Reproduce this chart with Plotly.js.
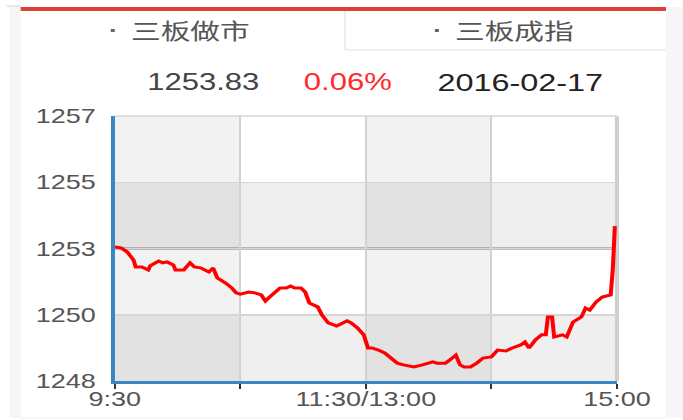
<!DOCTYPE html>
<html>
<head>
<meta charset="utf-8">
<script src="https://cdn.plot.ly/plotly-3.0.1.min.js"></script>
<style>
html,body{margin:0;padding:0;background:#fff;overflow:hidden;}
#chart{width:506px;height:420px;transform:scaleX(1.35);transform-origin:0 0;}
</style>
</head>
<body>
<div id="chart"></div>
<script>
// ---- data ----
const tabLabels = ['三板做市', '三板成指'];
const tradeDate = '2016-02-17';
const prevClose = 1253.08;
const halfRange = 4.45;
const minutes = [0,3,6,9,10,13,16,17,21,23,25,28,29,33,36,38,41,45,47,49,53,56,58,60,64,67,70,72,74,77,79,82,84,86,89,91,93,97,99,102,106,109,111,113,116,119,121,123,126,129,132,135,138,143,147,152,154,158,160,163,165,167,170,173,176,180,183,187,190,194,196,198,201,204,206,207,209,210,214,216,219,221,223,225,227,230,233,237,238,239];
const values = [1253.13,1253.10,1252.96,1252.69,1252.46,1252.46,1252.36,1252.50,1252.66,1252.60,1252.63,1252.53,1252.36,1252.36,1252.60,1252.46,1252.43,1252.29,1252.43,1252.09,1251.92,1251.75,1251.59,1251.55,1251.62,1251.59,1251.52,1251.32,1251.45,1251.62,1251.75,1251.75,1251.82,1251.75,1251.75,1251.62,1251.25,1251.12,1250.85,1250.58,1250.48,1250.58,1250.65,1250.58,1250.41,1250.18,1249.74,1249.74,1249.67,1249.57,1249.40,1249.23,1249.17,1249.10,1249.17,1249.27,1249.23,1249.23,1249.33,1249.50,1249.17,1249.10,1249.10,1249.23,1249.40,1249.44,1249.67,1249.64,1249.74,1249.84,1249.94,1249.74,1250.01,1250.18,1250.18,1250.78,1250.78,1250.11,1250.18,1250.11,1250.61,1250.68,1250.78,1251.08,1251.01,1251.28,1251.45,1251.52,1252.36,1253.83];
const xTickVals = [0,60,120,180,240];
const xTickText = ['9:30','','11:30/13:00','','15:00'];
const yTickText = ['1257','1255','1253','1250','1248'];

// ---- layout helpers ----
const S = 1.35;
const W = 506, H = 420;
const L = 115 / S, R = W - 617 / S, T = 116, B = H - 381;
const px = x => (x - 115) / 502;   // page pixel -> paper x
const py = y => (381 - y) / 265;   // page pixel -> paper y

const yMax = prevClose + halfRange, yMin = prevClose - halfRange;
const yTickVals = [yMax, prevClose + halfRange / 2, prevClose, prevClose - halfRange / 2, yMin];

const last = values[values.length - 1];
const pct = ((last - prevClose) / prevClose * 100).toFixed(2) + '%';

const shapes = [];
// column bands
[[0,60],[120,180]].forEach(([a,b]) => shapes.push({type:'rect', layer:'below', xref:'x', yref:'paper', x0:a, x1:b, y0:0, y1:1, fillcolor:'rgba(0,0,0,0.05)', line:{width:0}}));
// row bands
[[prevClose, prevClose + halfRange/2],[yMin, prevClose - halfRange/2]].forEach(([a,b]) => shapes.push({type:'rect', layer:'below', xref:'paper', yref:'y', x0:0, x1:1, y0:a, y1:b, fillcolor:'rgba(0,0,0,0.063)', line:{width:0}}));
// prev close line
shapes.push({type:'line', layer:'below', xref:'paper', yref:'y', x0:0, x1:1, y0:prevClose, y1:prevClose, line:{color:'#7f7f7f', width:2}});
// top border
shapes.push({type:'line', xref:'paper', yref:'paper', x0:0, x1:1, y0:1, y1:1, line:{color:'#d6d6d6', width:1.5}});
// right border
shapes.push({type:'line', layer:'below', xref:'paper', yref:'paper', x0:1, x1:1, y0:0, y1:1, line:{color:'#cfcfcf', width:3}});
// page frame
shapes.push({type:'rect', xref:'paper', yref:'paper', x0:px(10), x1:px(21), y0:py(418), y1:py(7), fillcolor:'#f5f5f7', line:{width:0}});
shapes.push({type:'rect', xref:'paper', yref:'paper', x0:px(666), x1:px(683), y0:py(418), y1:py(7), fillcolor:'#f6f6f8', line:{width:0}});
shapes.push({type:'line', xref:'paper', yref:'paper', x0:px(7), x1:px(21), y0:py(6), y1:py(6), line:{color:'#cfcfcf', width:1}});
shapes.push({type:'line', xref:'paper', yref:'paper', x0:px(21), x1:px(666), y0:py(418), y1:py(418), line:{color:'#eeeeee', width:1}});
// red header bar
shapes.push({type:'rect', xref:'paper', yref:'paper', x0:px(21), x1:px(666), y0:py(11), y1:py(7), fillcolor:'#dc4139', line:{width:0}});
// second tab borders
shapes.push({type:'line', xref:'paper', yref:'paper', x0:px(345), x1:px(345), y0:py(50), y1:py(11), line:{color:'#e6e6e6', width:1}});
shapes.push({type:'line', xref:'paper', yref:'paper', x0:px(345), x1:px(666), y0:py(50), y1:py(50), line:{color:'#ebebeb', width:1.5}});
// tab bullets
[113, 437].forEach(x => shapes.push({type:'rect', xref:'paper', yref:'paper', x0:px(x - 2), x1:px(x + 2), y0:py(32), y1:py(29), fillcolor:'#666', line:{width:0}}));

const cjk = '"Noto Sans CJK SC", sans-serif';
const latin = '"Liberation Sans", Arial, sans-serif';
const annotations = [
  {text:tabLabels[0], x:px(190), y:py(29), font:{family:cjk, size:22, color:'#555'}},
  {text:tabLabels[1], x:px(514), y:py(29), font:{family:cjk, size:22, color:'#555'}},
  {text:last.toFixed(2), x:px(204), y:py(82), font:{family:latin, size:23, color:'#444'}},
  {text:pct, x:px(348), y:py(82), font:{family:latin, size:23, color:'#ff2a2a'}},
  {text:tradeDate, x:px(521), y:py(82), font:{family:latin, size:24, color:'#222'}}
].map(a => Object.assign({xref:'paper', yref:'paper', showarrow:false, xanchor:'center', yanchor:'middle'}, a));

const trace = {
  x: minutes, y: values, type:'scatter', mode:'lines',
  line:{color:'#ff0000', width:3}, hoverinfo:'skip'
};

const layout = {
  width:W, height:H,
  margin:{l:L, r:R, t:T, b:B, pad:0},
  paper_bgcolor:'rgba(0,0,0,0)', plot_bgcolor:'#ffffff',
  showlegend:false,
  font:{family:latin, size:20, color:'#555'},
  xaxis:{range:[0,240], tickvals:xTickVals, ticktext:xTickText, showgrid:true, gridcolor:'#d2d2d2', gridwidth:1.5,
         showline:true, linecolor:'#3d86c6', linewidth:2.5, ticks:'outside', ticklen:5, tickwidth:1.5, tickcolor:'#333',
         ticklabelstandoff:-6,
         zeroline:false, tickfont:{size:20, color:'#555'}, fixedrange:true},
  yaxis:{range:[yMin, yMax], tickvals:yTickVals, ticktext:yTickText, showgrid:true, gridcolor:'#d6d6d6', gridwidth:1.5,
         showline:true, linecolor:'#3d86c6', linewidth:3, ticks:'', ticklabelstandoff:7,
         zeroline:false, tickfont:{size:20, color:'#555'}, fixedrange:true},
  shapes:shapes, annotations:annotations
};

Plotly.newPlot('chart', [trace], layout, {displayModeBar:false, staticPlot:true});
</script>
</body>
</html>
